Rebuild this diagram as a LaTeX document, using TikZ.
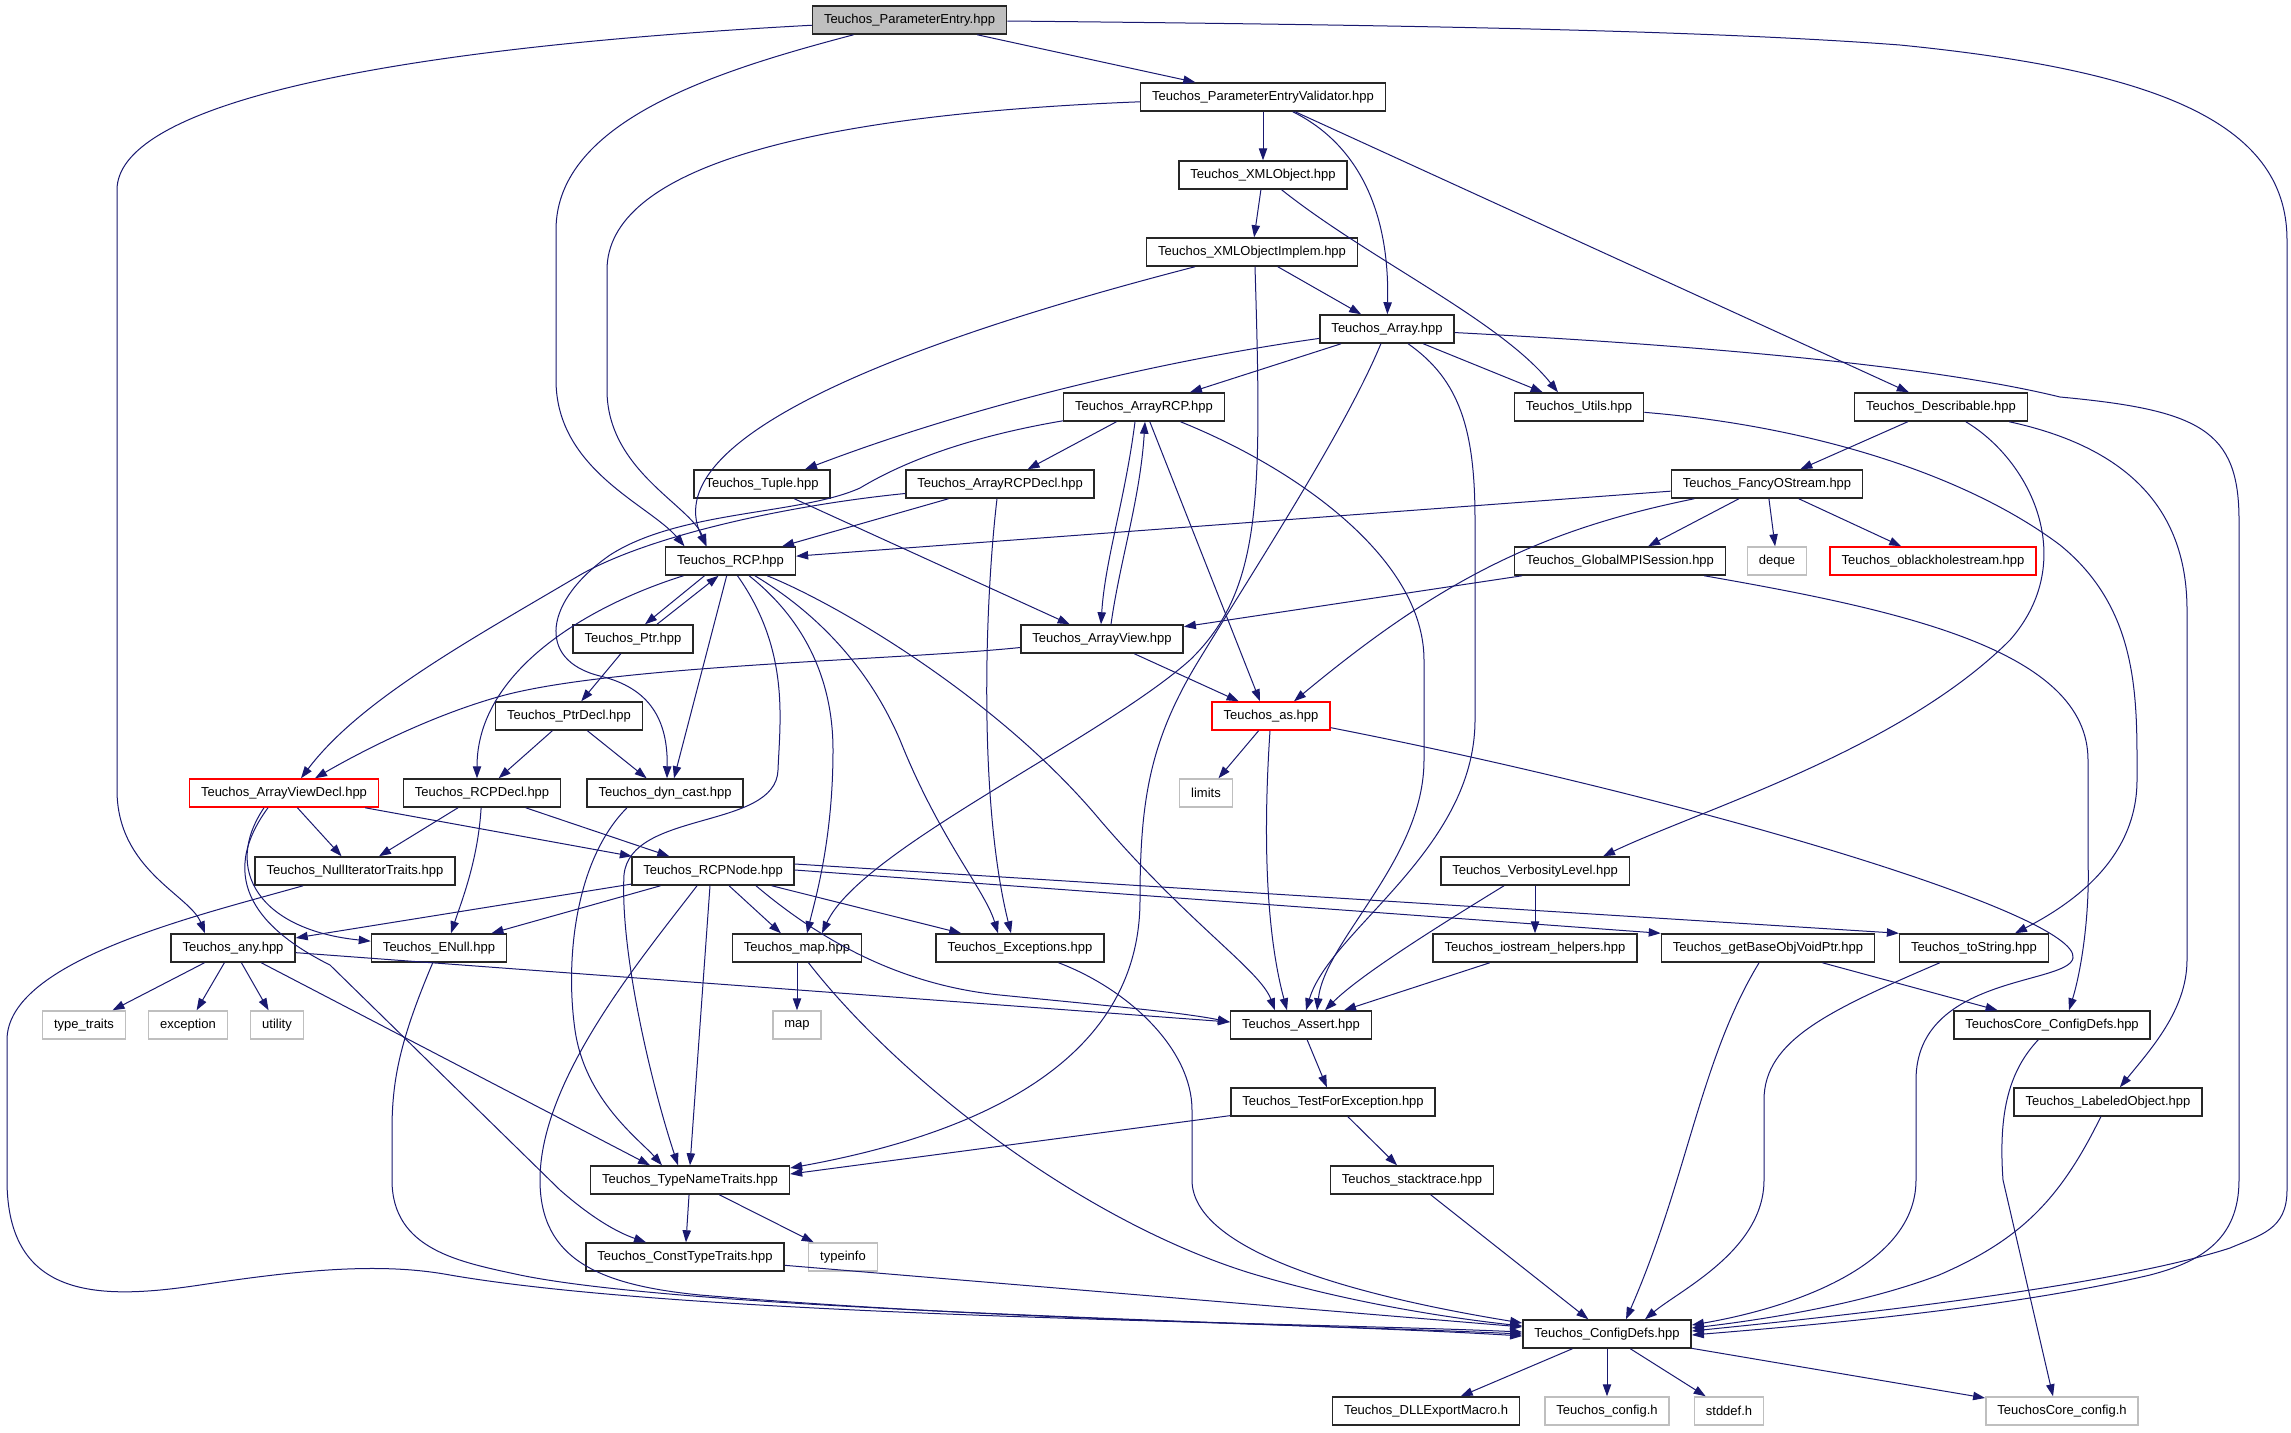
\documentclass[tikz,border=0pt]{standalone}
\usepackage{fontspec}
\setmainfont{Liberation Sans}
\usetikzlibrary{arrows.meta,calc}
\definecolor{edgec}{RGB}{25,25,112}
\definecolor{boxgray}{RGB}{191,191,191}
\tikzset{
  fnode/.style={draw=black!85, line width=0.75pt, rectangle, minimum height=14pt,
    inner xsep=5.75pt, inner ysep=0pt, font=\fontsize{6.5pt}{7.8pt}\selectfont, fill=white},
  sysnode/.style={fnode, draw=boxgray},
  rednode/.style={fnode, draw=red},
  rootnode/.style={fnode, fill=boxgray},
  dep/.style={draw=edgec, line width=0.5pt, -{Triangle[length=6pt,width=4.2pt]}}
}
\begin{document}
\begin{tikzpicture}[x=0.5pt,y=-0.5pt]
\fill[white] (0,0) rectangle (2291,1432);
\useasboundingbox (0,0) rectangle (2291,1432);
% nodes
\node[rootnode] (pe) at (909.5,20) {Teuchos\_ParameterEntry.hpp};
\node[fnode] (pev) at (1263,97) {Teuchos\_ParameterEntryValidator.hpp};
\node[fnode] (xml) at (1263,175) {Teuchos\_XMLObject.hpp};
\node[fnode] (xmli) at (1252,252) {Teuchos\_XMLObjectImplem.hpp};
\node[fnode] (arr) at (1387,329) {Teuchos\_Array.hpp};
\node[fnode] (arcp) at (1144,407) {Teuchos\_ArrayRCP.hpp};
\node[fnode] (utils) at (1579,407) {Teuchos\_Utils.hpp};
\node[fnode] (desc) at (1941,407) {Teuchos\_Describable.hpp};
\node[fnode] (tuple) at (762,484) {Teuchos\_Tuple.hpp};
\node[fnode] (arcpd) at (1000,484) {Teuchos\_ArrayRCPDecl.hpp};
\node[fnode] (fos) at (1767,484) {Teuchos\_FancyOStream.hpp};
\node[fnode] (rcp) at (730.5,561) {Teuchos\_RCP.hpp};
\node[fnode] (gmpi) at (1620,561) {Teuchos\_GlobalMPISession.hpp};
\node[sysnode] (deque) at (1777,561) {deque};
\node[rednode] (obh) at (1933,561) {Teuchos\_oblackholestream.hpp};
\node[fnode] (ptr) at (633,639) {Teuchos\_Ptr.hpp};
\node[fnode] (av) at (1102,639) {Teuchos\_ArrayView.hpp};
\node[fnode] (ptrd) at (569,716) {Teuchos\_PtrDecl.hpp};
\node[rednode] (as) at (1271,716) {Teuchos\_as.hpp};
\node[rednode] (avd) at (284,793) {Teuchos\_ArrayViewDecl.hpp};
\node[fnode] (rcpd) at (482,793) {Teuchos\_RCPDecl.hpp};
\node[fnode] (dync) at (665,793) {Teuchos\_dyn\_cast.hpp};
\node[sysnode] (limits) at (1206,793) {limits};
\node[fnode] (nit) at (355,871) {Teuchos\_NullIteratorTraits.hpp};
\node[fnode] (rcpn) at (713,871) {Teuchos\_RCPNode.hpp};
\node[fnode] (verb) at (1535,871) {Teuchos\_VerbosityLevel.hpp};
\node[fnode] (any) at (233,948) {Teuchos\_any.hpp};
\node[fnode] (enull) at (439,948) {Teuchos\_ENull.hpp};
\node[fnode] (map) at (797,948) {Teuchos\_map.hpp};
\node[fnode] (exc) at (1020,948) {Teuchos\_Exceptions.hpp};
\node[fnode] (ioh) at (1535,948) {Teuchos\_iostream\_helpers.hpp};
\node[fnode] (gbo) at (1768,948) {Teuchos\_getBaseObjVoidPtr.hpp};
\node[fnode] (tostr) at (1974,948) {Teuchos\_toString.hpp};
\node[sysnode] (tt) at (84,1025) {type\_traits};
\node[sysnode] (excp) at (188,1025) {exception};
\node[sysnode] (util) at (277,1025) {utility};
\node[sysnode] (smap) at (797,1025) {map};
\node[fnode] (assert) at (1301,1025) {Teuchos\_Assert.hpp};
\node[fnode] (tccd) at (2052,1025) {TeuchosCore\_ConfigDefs.hpp};
\node[fnode] (tfe) at (1333,1102) {Teuchos\_TestForException.hpp};
\node[fnode] (labo) at (2108,1102) {Teuchos\_LabeledObject.hpp};
\node[fnode] (stack) at (1412,1180) {Teuchos\_stacktrace.hpp};
\node[fnode] (tnt) at (690,1180) {Teuchos\_TypeNameTraits.hpp};
\node[fnode] (ctt) at (685,1257) {Teuchos\_ConstTypeTraits.hpp};
\node[sysnode] (tinfo) at (843,1257) {typeinfo};
\node[fnode] (cd) at (1607,1334) {Teuchos\_ConfigDefs.hpp};
\node[fnode] (dll) at (1426,1411) {Teuchos\_DLLExportMacro.h};
\node[sysnode] (cfgh) at (1607,1411) {Teuchos\_config.h};
\node[sysnode] (stddef) at (1729,1411) {stddef.h};
\node[sysnode] (tcch) at (2062,1411) {TeuchosCore\_config.h};

% ParameterEntry
\draw[dep] (pe) .. controls (350,50) and (117,110) .. (117,190) -- (117,790) .. controls (117,870) and (190,895) .. ($(any.north)+(-28,0)$);
\draw[dep] (pe) .. controls (720,70) and (556,120) .. (556,230) -- (556,380) .. controls (556,470) and (650,505) .. ($(rcp.north)+(-46,0)$);
\draw[dep] (pe) -- (pev);
\draw[dep] (pe) .. controls (1400,25) and (1700,30) .. (1900,45) .. controls (2150,70) and (2287,120) .. (2287,240) -- (2287,1190) .. controls (2287,1230) and (2260,1235) .. (2230,1248) .. controls (2100,1290) and (1800,1320) .. ($(cd.east)+(0,-3)$);
% Validator
\draw[dep] (pev) .. controls (800,115) and (607,170) .. (607,270) -- (607,390) .. controls (607,470) and (690,505) .. ($(rcp.north)+(-24,0)$);
\draw[dep] (pev) -- (xml);
\draw[dep] (pev) .. controls (1350,140) and (1390,200) .. (arr);
\draw[dep] (pev) -- (desc);
% XMLObject
\draw[dep] (xml) -- (xmli);
\draw[dep] (xml) .. controls (1370,260) and (1500,320) .. ($(utils.north)+(-21,0)$);
% XMLObjectImplem
\draw[dep] (xmli) .. controls (950,330) and (650,430) .. ($(rcp.north)+(-24,0)$);
\draw[dep] (xmli) -- (arr);
\draw[dep] ($(xmli.south)+(3,0)$) .. controls (1262,500) and (1262,590) .. (1190,660) .. controls (1100,740) and (860,850) .. ($(map.north)+(25,0)$);
% Array
\draw[dep] (arr) .. controls (1200,355) and (1000,395) .. ($(tuple.north)+(43,0)$);
\draw[dep] (arr) -- (arcp);
\draw[dep] (arr) -- (utils);
\draw[dep] (arr) .. controls (1345,430) and (1260,560) .. (1199,660) .. controls (1150,740) and (1140,800) .. (1140,900) .. controls (1140,1050) and (1000,1130) .. ($(tnt.east)+(0,-12)$);
\draw[dep] (arr) .. controls (1460,380) and (1475,430) .. (1475,520) -- (1475,720) .. controls (1475,850) and (1330,930) .. ($(assert.north)+(5,0)$);
\draw[dep] (arr) .. controls (1750,348) and (1950,370) .. (2060,397) .. controls (2200,410) and (2239,430) .. (2239,520) -- (2239,1180) .. controls (2239,1240) and (2200,1262) .. (2150,1275) .. controls (2000,1310) and (1800,1326) .. ($(cd.east)+(0,1)$);
% ArrayRCP
\draw[dep] (arcp) -- (arcpd);
\draw[dep] ($(arcp.south)+(-9,0)$) .. controls (1125,500) and (1105,560) .. ($(av.north)+(-1,0)$);
\draw[dep] ($(av.north)+(9,0)$) .. controls (1120,560) and (1140,500) .. ($(arcp.south)+(1,0)$);
\draw[dep] (arcp) -- ($(as.north)+(-11,0)$);
\draw[dep] (arcp) .. controls (1300,470) and (1424,560) .. (1424,660) -- (1424,760) .. controls (1424,860) and (1325,940) .. ($(assert.north)+(16,0)$);
\draw[dep] (arcp) .. controls (950,440) and (890,470) .. (860,488) .. controls (800,515) and (680,510) .. (610,555) .. controls (545,600) and (535,660) .. (600,676) .. controls (650,688) and (668,720) .. ($(dync.north)+(2,0)$);
% Utils, Describable
\draw[dep] (utils) .. controls (1800,425) and (1960,470) .. (2060,545) .. controls (2140,610) and (2137,700) .. (2137,780) .. controls (2137,860) and (2070,905) .. ($(tostr.north)+(41,0)$);
\draw[dep] (desc) -- (fos);
\draw[dep] (desc) .. controls (2030,460) and (2080,560) .. (2010,640) .. controls (1900,750) and (1700,810) .. ($(verb.north)+(68,0)$);
\draw[dep] (desc) .. controls (2140,450) and (2187,520) .. (2187,610) -- (2187,960) .. controls (2187,1010) and (2150,1050) .. (labo);
% Tuple, ArrayRCPDecl
\draw[dep] (tuple) -- (av);
\draw[dep] (arcpd) -- (rcp);
\draw[dep] (arcpd) .. controls (790,505) and (650,535) .. (580,575) .. controls (470,640) and (360,700) .. ($(avd.north)+(17,0)$);
\draw[dep] ($(arcpd.south)+(-3,0)$) .. controls (985,600) and (978,800) .. ($(exc.north)+(-9,0)$);
% FancyOStream
\draw[dep] (fos) -- (rcp);
\draw[dep] (fos) .. controls (1540,530) and (1440,580) .. ($(as.north)+(23,0)$);
\draw[dep] (fos) -- (gmpi);
\draw[dep] (fos) -- (deque);
\draw[dep] (fos) -- (obh);
% RCP
\draw[dep] (rcp) .. controls (590,605) and (477,670) .. ($(rcpd.north)+(-5,0)$);
\draw[dep] ($(rcp.south)+(-26,0)$) -- ($(ptr.north)+(12,0)$);
\draw[dep] ($(ptr.north)+(24,0)$) -- ($(rcp.south)+(-12,0)$);
\draw[dep] (rcp) -- ($(dync.north)+(9,0)$);
\draw[dep] ($(rcp.south)+(7,0)$) .. controls (790,650) and (780,720) .. (778,770) .. controls (776,830) and (630,810) .. (624,875) .. controls (620,950) and (650,1080) .. ($(tnt.north)+(-12,0)$);
\draw[dep] (rcp) .. controls (805,620) and (833,680) .. (833,750) .. controls (833,840) and (815,900) .. ($(map.north)+(10,0)$);
\draw[dep] (rcp) .. controls (820,615) and (870,670) .. (900,740) .. controls (940,840) and (985,890) .. ($(exc.north)+(-22,0)$);
\draw[dep] (rcp) .. controls (840,605) and (1000,700) .. (1100,820) .. controls (1190,925) and (1260,970) .. ($(assert.north)+(-26,0)$);
% GlobalMPISession
\draw[dep] (gmpi) -- (av);
\draw[dep] (gmpi) .. controls (1900,610) and (2088,650) .. (2088,760) -- (2088,860) .. controls (2090,920) and (2080,975) .. ($(tccd.north)+(17,0)$);
% ArrayView
\draw[dep] (av) .. controls (900,660) and (620,665) .. (505,695) .. controls (430,715) and (355,755) .. ($(avd.north)+(31,0)$);
\draw[dep] (av) -- (as);
% as
\draw[dep] (as) -- (limits);
\draw[dep] (as) .. controls (1262,850) and (1268,940) .. ($(assert.north)+(-14,0)$);
\draw[dep] (as) .. controls (1700,800) and (2080,915) .. (2073,958) .. controls (2068,985) and (1916,975) .. (1916,1080) -- (1916,1180) .. controls (1916,1270) and (1780,1310) .. ($(cd.east)+(0,-9)$);
% Ptr, PtrDecl
\draw[dep] (ptr) -- (ptrd);
\draw[dep] (ptrd) -- (rcpd);
\draw[dep] (ptrd) -- (dync);
% ArrayViewDecl
\draw[dep] (avd) -- (nit);
\draw[dep] (avd) -- (rcpn);
\draw[dep] ($(avd.south)+(-20,0)$) .. controls (222,870) and (260,930) .. (enull);
\draw[dep] ($(avd.south)+(-16,0)$) .. controls (215,880) and (260,930) .. (330,965) -- (560,1190) .. controls (600,1225) and (625,1235) .. ($(ctt.north)+(-39,0)$);
% RCPDecl
\draw[dep] (rcpd) -- (nit);
\draw[dep] (rcpd) -- (rcpn);
\draw[dep] (rcpd) .. controls (478,860) and (462,900) .. ($(enull.north)+(12,0)$);
% dyn_cast
\draw[dep] ($(dync.south)+(-38,0)$) .. controls (575,860) and (565,960) .. (575,1030) .. controls (585,1100) and (640,1140) .. ($(tnt.north)+(-28,0)$);
% NullIteratorTraits
\draw[dep] (nit) .. controls (200,915) and (7,960) .. (7,1040) -- (7,1180) .. controls (7,1300) and (100,1300) .. (200,1285) .. controls (300,1270) and (380,1262) .. (450,1275) .. controls (700,1318) and (1300,1322) .. ($(cd.west)+(0,-2)$);
% RCPNode
\draw[dep] (rcpn) -- (any);
\draw[dep] (rcpn) -- (enull);
\draw[dep] (rcpn) -- (map);
\draw[dep] (rcpn) -- (exc);
\draw[dep] ($(rcpn.south)+(43,0)$) .. controls (820,940) and (900,985) .. (1000,995) .. controls (1100,1005) and (1180,1012) .. ($(assert.west)+(0,-3)$);
\draw[dep] ($(rcpn.south)+(-16,0)$) .. controls (640,960) and (540,1080) .. (540,1180) .. controls (540,1260) and (600,1285) .. (700,1295) .. controls (1000,1320) and (1300,1324) .. (cd.west);
\draw[dep] ($(rcpn.south)+(-3,0)$) -- (tnt.north);
\draw[dep] ($(rcpn.east)+(0,-7)$) -- (tostr.north west);
\draw[dep] ($(rcpn.east)+(0,-1)$) -- (gbo.north west);
% any
\draw[dep] (any) -- (tt);
\draw[dep] (any) -- (excp);
\draw[dep] (any) -- (util);
\draw[dep] (any) -- ($(tnt.north)+(-40,0)$);
\draw[dep] (any) -- ($(assert.west)+(0,-3)$);
% ENull
\draw[dep] (enull) .. controls (400,1040) and (392,1080) .. (392,1130) -- (392,1180) .. controls (392,1250) and (460,1262) .. (520,1275) .. controls (700,1312) and (1300,1322) .. ($(cd.west)+(0,2)$);
% map
\draw[dep] (map) -- (smap);
\draw[dep] (map) .. controls (900,1080) and (1080,1220) .. (1250,1273) .. controls (1350,1303) and (1450,1318) .. ($(cd.west)+(0,-8)$);
% Exceptions
\draw[dep] (exc) .. controls (1130,990) and (1192,1050) .. (1192,1110) -- (1192,1180) .. controls (1192,1250) and (1350,1295) .. ($(cd.west)+(0,-11)$);
% VerbosityLevel, iostream_helpers
\draw[dep] (verb) -- (ioh);
\draw[dep] ($(verb.south)+(-31,0)$) .. controls (1440,925) and (1360,975) .. ($(assert.north)+(24,0)$);
\draw[dep] (ioh) -- ($(assert.north)+(43,0)$);
% getBaseObjVoidPtr, toString
\draw[dep] (gbo) .. controls (1700,1060) and (1687,1180) .. ($(cd.north)+(19,0)$);
\draw[dep] (gbo) -- (tccd);
\draw[dep] (tostr) .. controls (1830,1010) and (1764,1040) .. (1764,1100) -- (1764,1180) .. controls (1764,1250) and (1680,1290) .. ($(cd.north)+(38,0)$);
% Assert, TestForException, stacktrace
\draw[dep] (assert) -- (tfe);
\draw[dep] (tfe) -- ($(tnt.east)+(0,-6)$);
\draw[dep] (tfe) -- (stack);
\draw[dep] (stack) -- (cd);
% LabeledObject, TeuchosCore_ConfigDefs
\draw[dep] (labo) .. controls (2060,1200) and (2020,1240) .. (1939,1275) .. controls (1860,1305) and (1760,1320) .. ($(cd.east)+(0,-6)$);
\draw[dep] (tccd) .. controls (2010,1070) and (1998,1110) .. (2003,1180) -- ($(tcch.north)+(-9,0)$);
% TypeNameTraits, ConstTypeTraits
\draw[dep] (tnt) -- (ctt);
\draw[dep] (tnt) -- (tinfo);
\draw[dep] (ctt) -- (cd);
% ConfigDefs
\draw[dep] (cd) -- (dll);
\draw[dep] (cd) -- (cfgh);
\draw[dep] (cd) -- (stddef);
\draw[dep] (cd) -- (tcch);
\end{tikzpicture}
\end{document}
